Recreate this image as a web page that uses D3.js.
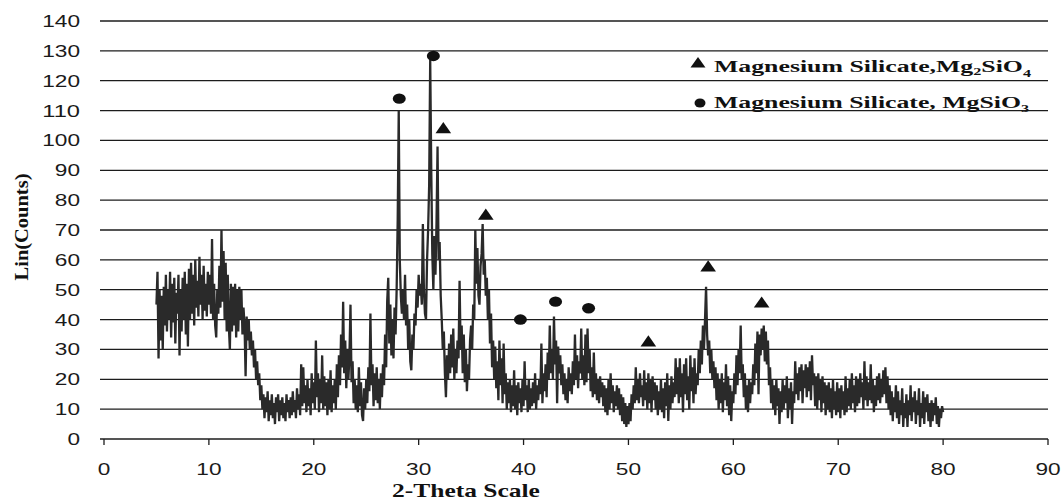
<!DOCTYPE html>
<html><head><meta charset="utf-8">
<script src="https://cdn.jsdelivr.net/npm/d3@7"></script>
<style>body{margin:0;background:#fff}svg{display:block}</style>
</head><body>
<svg id="chart" width="1064" height="500"></svg>
<script>
// ---- data ----
const thetaStart = 5, thetaStep = 0.1;   // 2-theta scan 5..80
const counts = [
45,56,27,50,33,48,30,51,38,55,
36,50,40,56,34,52,39,54,32,49,
42,55,28,50,36,54,40,56,35,52,
31,57,40,59,42,55,38,60,44,53,
41,61,45,55,40,58,43,52,41,56,
45,55,42,67,40,52,38,34,50,42,
58,44,70,46,63,40,59,36,55,38,
30,52,36,51,38,52,34,50,36,51,
40,50,35,44,38,21,41,33,40,30,
36,28,33,24,30,20,26,18,22,13,
18,10,15,7,14,9,16,6,13,8,
15,7,12,5,14,9,15,6,13,8,
14,7,12,6,15,9,13,7,14,8,
16,9,13,7,17,10,15,8,25,11,
24,12,18,9,20,11,17,8,22,12,
19,10,33,14,22,9,20,12,28,10,
21,11,19,8,20,10,23,9,18,12,
20,10,25,14,28,18,35,24,46,22,
33,17,30,20,28,45,19,26,12,20,
10,18,9,24,11,19,8,6,17,10,
20,12,24,16,42,18,25,11,22,13,
24,12,20,10,22,14,25,18,35,24,
46,54,32,45,28,40,27,44,35,50,
73,110,60,48,42,50,40,55,38,45,
30,40,26,23,35,30,42,38,50,44,
55,48,52,45,72,50,42,40,60,70,
85,127,90,62,50,68,55,72,98,60,
66,48,40,30,36,22,14,28,20,32,
22,35,24,37,20,30,22,33,27,53,
30,38,22,35,19,30,16,25,20,33,
38,30,45,40,70,52,64,48,45,58,
62,72,55,60,48,54,40,50,32,42,
24,33,20,31,17,26,13,33,18,27,
12,32,15,22,10,19,12,20,9,18,
11,23,10,18,8,19,12,17,9,20,
11,26,13,18,9,20,10,17,11,19,
12,22,10,18,13,20,15,32,12,22,
16,25,14,29,20,38,22,30,20,41,
25,33,12,31,22,28,18,25,15,22,
13,20,12,24,16,22,15,26,18,35,
20,28,17,26,22,37,20,28,18,35,
19,37,22,30,16,24,14,29,15,22,
13,20,12,21,14,19,11,18,9,17,
8,20,10,22,12,18,9,16,11,18,
10,17,8,15,6,14,5,12,4,11,
5,12,6,15,10,18,12,24,13,20,
12,22,14,18,11,23,13,19,10,22,
12,20,9,21,13,19,10,18,8,16,
10,20,9,17,7,19,11,22,6,18,
10,21,12,19,14,27,15,24,12,27,
14,22,9,25,15,27,13,21,10,28,
16,24,12,27,15,22,18,30,22,33,
25,38,30,40,51,35,28,33,22,30,
20,26,17,24,13,22,10,20,12,22,
9,19,13,25,11,21,8,18,6,16,
12,22,15,28,18,30,22,38,20,25,
14,22,10,18,9,20,12,19,15,25,
18,32,22,36,15,35,28,37,30,38,
26,36,25,33,18,24,12,20,10,18,
8,20,11,17,5,16,9,20,10,18,
12,21,7,17,10,19,5,16,12,26,
15,22,13,24,16,25,12,23,17,25,
14,24,16,26,13,28,18,22,11,21,
10,22,13,20,9,21,12,19,8,18,
10,19,9,17,7,20,10,16,8,19,
9,17,7,18,10,16,8,21,9,17,
11,20,10,22,12,18,9,21,11,20,
12,22,14,19,10,26,13,21,11,19,
13,25,12,20,9,18,11,21,13,22,
12,20,14,23,15,24,12,21,10,18,
8,16,6,14,9,18,7,16,5,13,
8,17,4,12,7,15,4,13,8,18,
6,14,9,16,5,13,8,17,4,12,
7,16,5,14,9,15,6,12,4,13,
6,12,8,14,5,11,4,10,7,11,
9
];
const xTicks = [0,10,20,30,40,50,60,70,80,90];
const yTicks = [0,10,20,30,40,50,60,70,80,90,100,110,120,130,140];
// peak markers
const mg2sio4Theta = [32.35, 36.4, 51.9, 57.6, 62.7];
const mg2sio4Level = [104, 75, 32.6, 57.7, 45.6];
const mgsio3Theta  = [28.15, 31.4, 39.7, 43.05, 46.2];
const mgsio3Level  = [114, 128.3, 40, 46, 43.8];
const legendLabels = ["Magnesium Silicate,Mg", "Magnesium Silicate, MgSiO"];

// ---- drawing ----
const svg = d3.select("#chart");
const x = d3.scaleLinear().domain([0, 90]).range([104, 1048]);
const y = d3.scaleLinear().domain([0, 140]).range([439, 21]);
const ink = "#1c1c1c";

// scaled text helper
function fitText(parent, px, py, anchor, width, build) {
  const g = parent.append("g").attr("transform", `translate(${px},${py})`);
  const t = g.append("text").attr("text-anchor", anchor);
  build(t);
  const w = t.node().getBBox().width;
  g.attr("transform", `translate(${px},${py}) scale(${width / w},1)`);
  return g;
}

// gridlines
svg.append("g").selectAll("line").data(yTicks).join("line")
  .attr("x1", 100).attr("x2", x(90))
  .attr("y1", d => y(d)).attr("y2", d => y(d))
  .attr("stroke", ink).attr("stroke-width", d => d === 0 ? 1.6 : 1.3);

// x ticks
svg.append("g").selectAll("line").data(xTicks).join("line")
  .attr("x1", d => x(d)).attr("x2", d => x(d))
  .attr("y1", y(0)).attr("y2", y(0) + 6)
  .attr("stroke", ink).attr("stroke-width", 1.3);

// tick labels
const tickFont = t => t.attr("font-family", "Liberation Sans, Arial, sans-serif")
  .attr("font-size", 16.5).attr("fill", "#1a1a1a");
yTicks.forEach(v => {
  const s = String(v);
  fitText(svg, 80, y(v) + 6, "end", 12.6 * s.length, t => tickFont(t.text(s)));
});
xTicks.forEach(v => {
  const s = String(v);
  fitText(svg, x(v), 475, "middle", 12.6 * s.length, t => tickFont(t.text(s)));
});

// axis titles
fitText(svg, 466, 497, "middle", 148, t => t.text("2-Theta Scale")
  .attr("font-family", "Liberation Serif, Times New Roman, serif")
  .attr("font-weight", "bold").attr("font-size", 18).attr("fill", "#111"));
{
  const g = svg.append("g").attr("transform", "translate(28,227) rotate(-90)");
  fitText(g, 0, 0, "middle", 107, t => t.text("Lin(Counts)")
    .attr("font-family", "Liberation Serif, Times New Roman, serif")
    .attr("font-weight", "bold").attr("font-size", 18).attr("fill", "#111"));
}

// the pattern line
const line = d3.line()
  .x((d, i) => x(thetaStart + i * thetaStep))
  .y(d => y(d));
svg.append("path").datum(counts)
  .attr("d", line).attr("fill", "none")
  .attr("stroke", "#2a2a2a").attr("stroke-width", 2.3)
  .attr("stroke-linejoin", "miter");

// markers
const tri = d3.symbol().type(d3.symbolTriangle).size(80);
svg.append("g").selectAll("path").data(mg2sio4Theta).join("path")
  .attr("d", tri)
  .attr("transform", (d, i) => `translate(${x(d)},${y(mg2sio4Level[i]) + 1}) scale(1.15,0.95)`)
  .attr("fill", "#111");
svg.append("g").selectAll("ellipse").data(mgsio3Theta).join("ellipse")
  .attr("cx", d => x(d)).attr("cy", (d, i) => y(mgsio3Level[i]))
  .attr("rx", 6.5).attr("ry", 5.2).attr("fill", "#111");

// legend
svg.append("path").attr("d", tri)
  .attr("transform", "translate(698,64) scale(1.1,0.9)").attr("fill", "#111");
svg.append("ellipse").attr("cx", 700).attr("cy", 103).attr("rx", 5.5).attr("ry", 4.5).attr("fill", "#111");
const legFont = t => t.attr("font-family", "Liberation Serif, Times New Roman, serif")
  .attr("font-weight", "bold").attr("font-size", 17.5).attr("fill", "#111");
fitText(svg, 714, 72, "start", 318, t => {
  legFont(t);
  t.append("tspan").text(legendLabels[0]);
  t.append("tspan").text("2").attr("font-size", 11).attr("dy", 3);
  t.append("tspan").text("SiO").attr("dy", -3);
  t.append("tspan").text("4").attr("font-size", 11).attr("dy", 5);
});
fitText(svg, 714, 108, "start", 316, t => {
  legFont(t);
  t.append("tspan").text(legendLabels[1]);
  t.append("tspan").text("3").attr("font-size", 11).attr("dy", 4);
});
</script>
</body></html>
